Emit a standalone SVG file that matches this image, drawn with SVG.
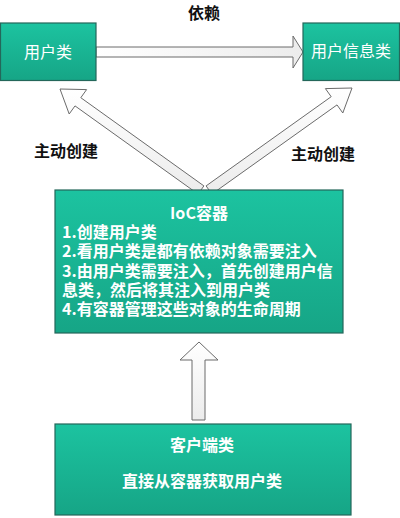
<svg xmlns="http://www.w3.org/2000/svg" width="400" height="518" viewBox="0 0 400 518">
<defs>
<linearGradient id="teal" x1="0" y1="0" x2="0" y2="1">
<stop offset="0" stop-color="#1cc3a0"/>
<stop offset="1" stop-color="#16a586"/>
</linearGradient>
<linearGradient id="arr" x1="0" y1="0" x2="0" y2="1">
<stop offset="0" stop-color="#ffffff"/>
<stop offset="1" stop-color="#ececec"/>
</linearGradient>
<linearGradient id="arrh" x1="0" y1="0" x2="1" y2="0">
<stop offset="0" stop-color="#ffffff"/>
<stop offset="1" stop-color="#ececec"/>
</linearGradient>
</defs>
<style>
.box{fill:url(#teal);stroke:#24675a;stroke-width:1.2}
.arrow{fill:url(#arr);stroke:#6b6b6b;stroke-width:1}
.wt{fill:#ffffff;font-family:"Noto Sans CJK SC","Noto Sans",sans-serif;font-size:16px}
.bt{fill:#111111;font-family:"Noto Sans CJK SC","Noto Sans",sans-serif;font-size:16px;font-weight:bold}
.b{font-weight:bold}
</style>
<rect width="400" height="518" fill="#ffffff"/>
<g id="connectors">
<polygon class="arrow" style="fill:url(#arrh)" points="96,47 293,47 293,36 303,52 293,68 293,57 96,57"/>
<polygon class="arrow" points="203.9,185.9 80.8,97.7 86.6,89.6 60,89 69.2,114 75,105.9 198.1,194.1"/>
<polygon class="arrow" points="206.1,185.9 331.2,96.7 325.4,88.6 352,88 342.8,113 337,104.9 211.9,194.1"/>
<polygon class="arrow" points="192,420 192,360 180,360 199,342 218,360 205,360 205,420"/>
</g>
<g id="label-yilai"><text class="bt" x="204" y="19" text-anchor="middle">依赖</text></g>
<g id="label-create-left"><text class="bt" x="66" y="157" text-anchor="middle">主动创建</text></g>
<g id="label-create-right"><text class="bt" x="323" y="160" text-anchor="middle">主动创建</text></g>
<g id="user">
<rect class="box" x="0.5" y="23" width="95.5" height="57.5"/>
<text class="wt" x="48" y="58" text-anchor="middle">用户类</text>
</g>
<g id="userinfo">
<rect class="box" x="303" y="23" width="96.5" height="57.5"/>
<text class="wt" x="351" y="57" text-anchor="middle">用户信息类</text>
</g>
<g id="ioc">
<rect class="box" x="55" y="190" width="288" height="143"/>
<text class="wt b" x="199" y="219" text-anchor="middle">IoC容器</text>
<text class="wt b" x="62" y="238">1.创建用户类</text>
<text class="wt b" x="62" y="257">2.看用户类是都有依赖对象需要注入</text>
<text class="wt b" x="62" y="277">3.由用户类需要注入，首先创建用户信</text>
<text class="wt b" x="62" y="296">息类，然后将其注入到用户类</text>
<text class="wt b" x="62" y="315">4.有容器管理这些对象的生命周期</text>
</g>
<g id="client">
<rect class="box" x="55" y="424" width="296" height="91"/>
<text class="wt b" x="202" y="451" text-anchor="middle">客户端类</text>
<text class="wt b" x="202" y="487" text-anchor="middle">直接从容器获取用户类</text>
</g>
</svg>
